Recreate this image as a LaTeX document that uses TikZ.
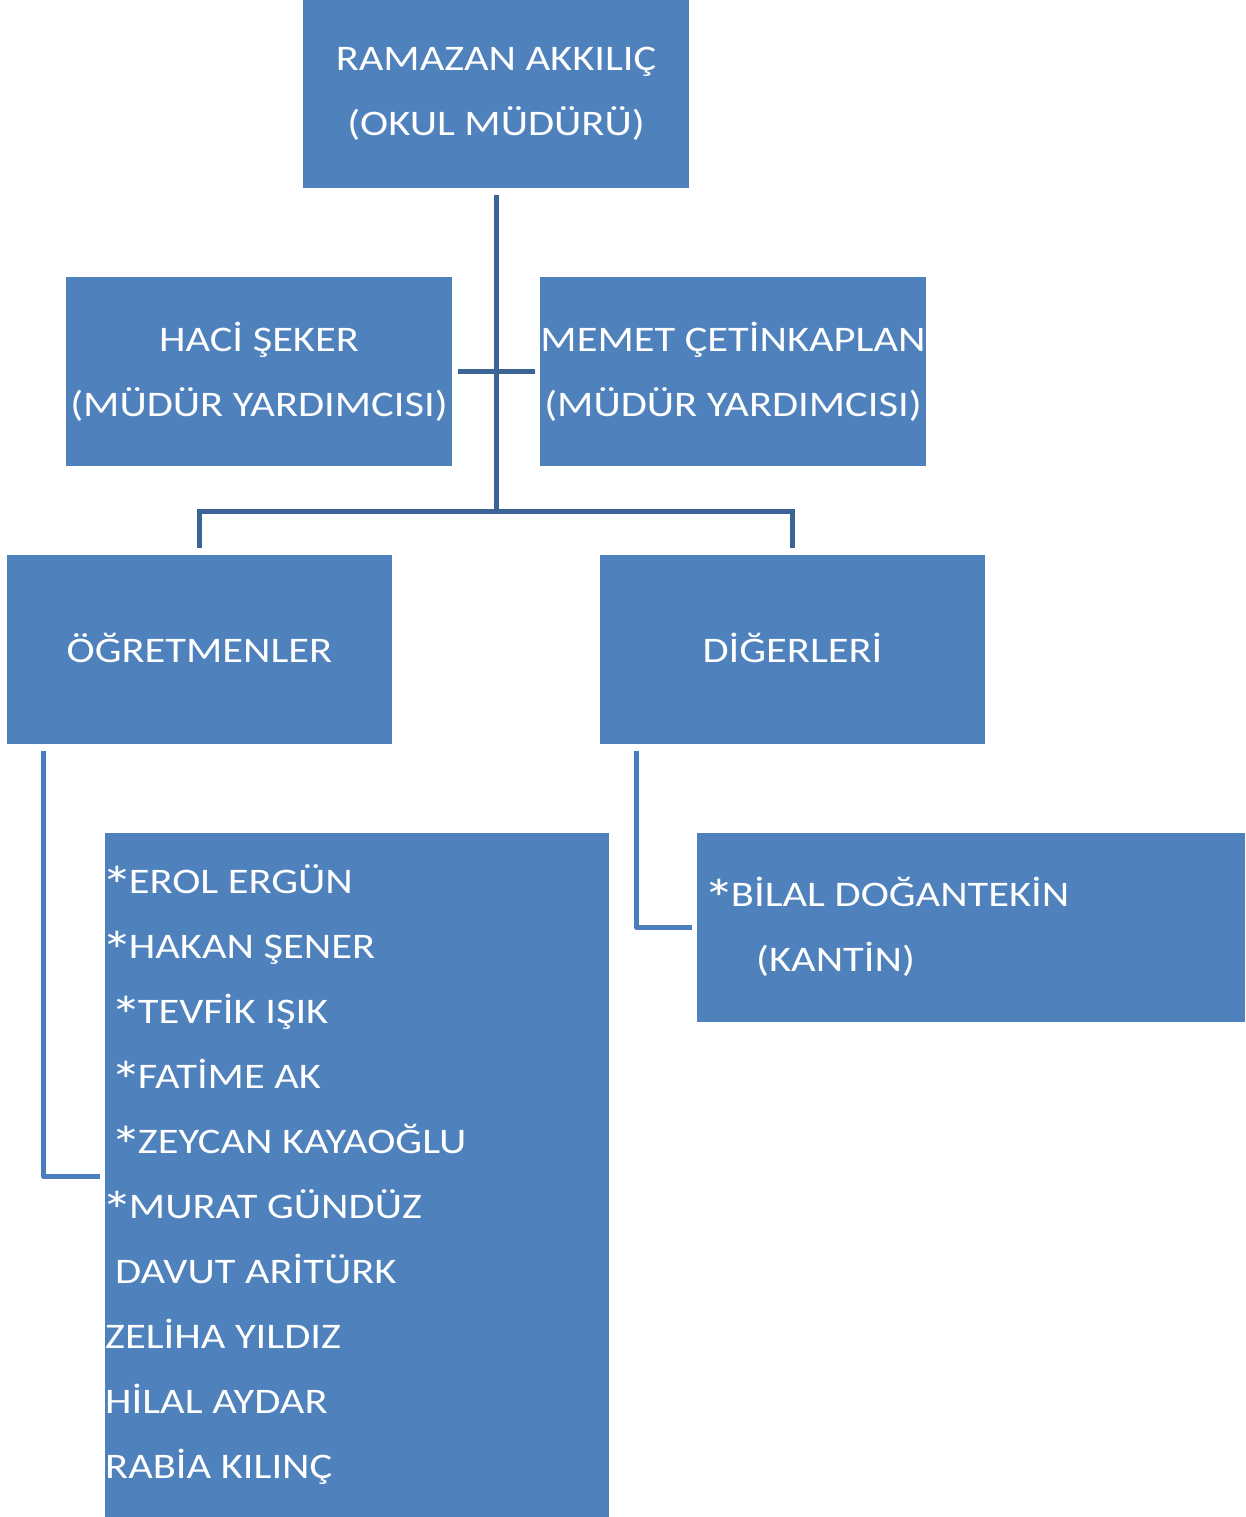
\documentclass[tikz,border=0pt]{standalone}
\usepackage{graphicx}
\usepackage{fontspec}
\setmainfont[FakeStretch=1.18]{Carlito}
\definecolor{boxblue}{RGB}{79,129,189}
\definecolor{treeline}{RGB}{60,100,150}
\definecolor{lline}{RGB}{74,126,187}
\newcommand\bigast{\hspace{-4pt}\raisebox{-11pt}{\scalebox{1.5}{*}}\hspace{-4pt}}
\begin{document}
\begin{tikzpicture}[x=1pt,y=-1pt,
  box/.style={rectangle,fill=boxblue,draw=none,inner sep=0pt,text=white,
    font=\fontsize{36}{65}\selectfont,align=center},
  listline/.style={anchor=base west,inner sep=0pt,text=white,font=\fontsize{36}{65}\selectfont},
  tree/.style={draw=treeline,line width=5pt},
  lconn/.style={draw=lline,line width=5pt,line join=round}]
\useasboundingbox (0,0) rectangle (1245,1517);
% boxes
\node[box,minimum width=386pt,minimum height=188pt] (top) at (496,94) {RAMAZAN AKKILIÇ\\(OKUL MÜDÜRÜ)};
\node[box,minimum width=386pt,minimum height=189pt] (haci) at (259,371.5) {HACİ ŞEKER\\(MÜDÜR YARDIMCISI)};
\node[box,minimum width=386pt,minimum height=189pt] (memet) at (733,371.5) {MEMET ÇETİNKAPLAN\\(MÜDÜR YARDIMCISI)};
\node[box,minimum width=385pt,minimum height=189pt] (ogr) at (199.5,649.5) {\raisebox{3pt}{ÖĞRETMENLER}};
\node[box,minimum width=385pt,minimum height=189pt] (dig) at (792.5,649.5) {\raisebox{3pt}{DİĞERLERİ}};
\node[box,minimum width=504pt,minimum height=684pt] (list) at (357,1175) {};
\node[box,minimum width=548pt,minimum height=189pt] (bilal) at (971,927.5) {};
% list text
\foreach \i/\x/\t in {0/105/{\bigast EROL ERGÜN},1/105/{\bigast HAKAN ŞENER},2/114/{\bigast TEVFİK IŞIK},3/114/{\bigast FATİME AK},4/114/{\bigast ZEYCAN KAYAOĞLU},5/105/{\bigast MURAT GÜNDÜZ},6/115/{DAVUT ARİTÜRK},7/105/{ZELİHA YILDIZ},8/105/{HİLAL AYDAR},9/105/{RABİA KILINÇ}}{
  \node[listline] (t\i) at (\x,893+65*\i) {\t};
}
\node[listline] (b1) at (707,906) {\bigast BİLAL DOĞANTEKİN};
\node[listline] (b2) at (756,971) {(KANTİN)};
% connectors
\coordinate (trunkTop) at ([yshift=-7pt]top.south);
\coordinate (trunkBot) at (top.south |- 0,511);
\coordinate (crossL) at ([xshift=6pt]haci.east);
\coordinate (crossR) at ([xshift=-5pt]memet.west);
\coordinate (ogrTop) at ([yshift=7pt]ogr.north);
\coordinate (digTop) at ([yshift=7pt]dig.north);
\draw[tree] (trunkTop) -- (trunkBot);
\draw[tree] (crossL) -- (crossR);
\draw[tree] (ogrTop) -- (ogrTop |- trunkBot) -- (digTop |- trunkBot) -- (digTop);
\coordinate (lA) at (43,751);
\coordinate (lB) at ([xshift=-5pt]list.west |- 0,1176);
\draw[lconn] (lA) |- (lB);
\coordinate (rA) at (636,751);
\coordinate (rB) at ([xshift=-5pt]bilal.west |- 0,927);
\draw[lconn] (rA) |- (rB);
\end{tikzpicture}
\end{document}
